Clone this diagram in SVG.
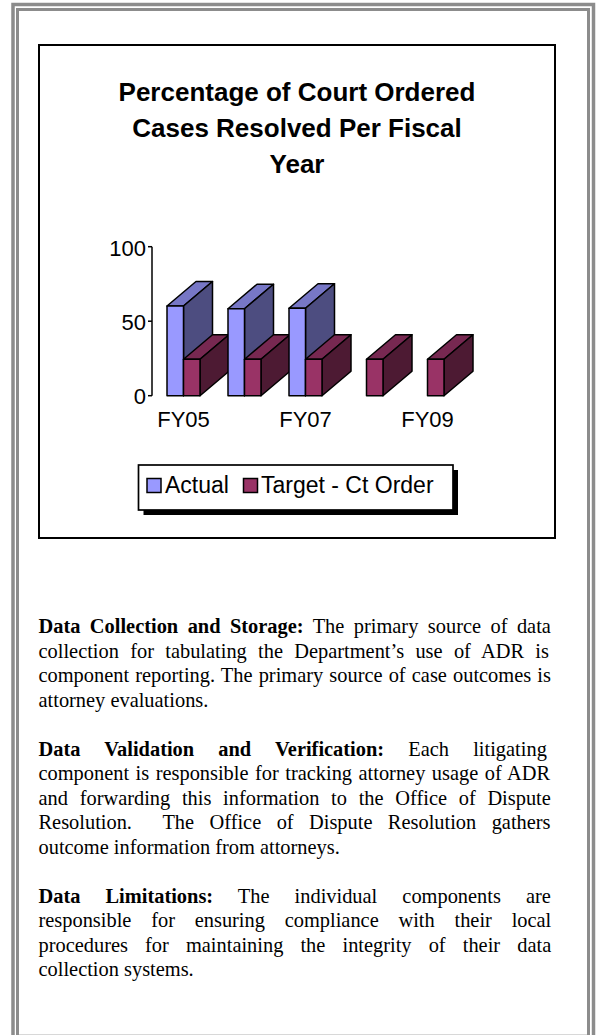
<svg xmlns="http://www.w3.org/2000/svg" width="597" height="1035" viewBox="0 0 597 1035">
<style>
.frame{fill:none;stroke:#8c8c8c}
.box{fill:none;stroke:#000;stroke-width:2}
.ttl{font-family:'Liberation Sans',Arial,sans-serif;font-weight:bold;font-size:26px;fill:#000;text-anchor:middle}
.ax{font-family:'Liberation Sans',Arial,sans-serif;font-size:22px;fill:#000}
.lg{font-family:'Liberation Sans',Arial,sans-serif;font-size:23px;fill:#000}
.bar *{stroke:#000;stroke-width:1.5;stroke-linejoin:round}
.af{fill:#9999ff}.at{fill:#7777c6}.as{fill:#4d4d80}
.tf{fill:#993366}.tt{fill:#772851}.ts{fill:#4d1a33}
.p{font-family:'Liberation Serif','Times New Roman',serif;font-size:20.4px;fill:#000}
.b{font-weight:bold}
</style>
<rect width="597" height="1035" fill="#fff"/>
<g id="page-border">
<rect class="frame" x="13" y="4.5" width="580.5" height="1040" stroke-width="3.5"/>
<rect class="frame" x="17.5" y="9.5" width="571" height="1040" stroke-width="3"/>
<line x1="19" y1="1034.5" x2="587" y2="1034.5" stroke="#d8d8d8" stroke-width="1"/>
</g>
<g id="chart">
<rect class="box" x="39" y="45" width="516" height="493"/>
<g id="title">
<text class="ttl" x="297" y="101">Percentage of Court Ordered</text>
<text class="ttl" x="297" y="137">Cases Resolved Per Fiscal</text>
<text class="ttl" x="297" y="173">Year</text>
</g>
<g id="axis">
<line x1="152" y1="246.7" x2="152" y2="395.7" stroke="#000" stroke-width="1.5"/>
<line x1="148" y1="246.7" x2="152" y2="246.7" stroke="#000" stroke-width="1.5"/>
<line x1="148" y1="321.2" x2="152" y2="321.2" stroke="#000" stroke-width="1.5"/>
<line x1="148" y1="395.7" x2="152" y2="395.7" stroke="#000" stroke-width="1.5"/>
<text class="ax" x="146" y="255.5" text-anchor="end">100</text>
<text class="ax" x="146" y="329.5" text-anchor="end">50</text>
<text class="ax" x="146" y="403.7" text-anchor="end">0</text>
<text class="ax" x="183.5" y="426.7" text-anchor="middle">FY05</text>
<text class="ax" x="305.5" y="426.7" text-anchor="middle">FY07</text>
<text class="ax" x="427.5" y="426.7" text-anchor="middle">FY09</text>
</g>
<g id="bars" class="bar">
<g id="actual-fy05">
<polygon class="at" points="167,306 183.5,306 212.5,281.5 196,281.5"/>
<polygon class="as" points="183.5,306 212.5,281.5 212.5,371.2 183.5,395.7"/>
<rect class="af" x="167" y="306" width="16.5" height="89.7"/>
</g>
<g id="target-fy05">
<polygon class="tt" points="183.5,359.3 200,359.3 229,334.8 212.5,334.8"/>
<polygon class="ts" points="200,359.3 229,334.8 229,371.2 200,395.7"/>
<rect class="tf" x="183.5" y="359.3" width="16.5" height="36.4"/>
</g>
<g id="actual-fy06">
<polygon class="at" points="228,308.7 244.5,308.7 273.5,284.2 257,284.2"/>
<polygon class="as" points="244.5,308.7 273.5,284.2 273.5,371.2 244.5,395.7"/>
<rect class="af" x="228" y="308.7" width="16.5" height="87"/>
</g>
<g id="target-fy06">
<polygon class="tt" points="244.5,359.3 261,359.3 290,334.8 273.5,334.8"/>
<polygon class="ts" points="261,359.3 290,334.8 290,371.2 261,395.7"/>
<rect class="tf" x="244.5" y="359.3" width="16.5" height="36.4"/>
</g>
<g id="actual-fy07">
<polygon class="at" points="289,308.3 305.5,308.3 334.5,283.8 318,283.8"/>
<polygon class="as" points="305.5,308.3 334.5,283.8 334.5,371.2 305.5,395.7"/>
<rect class="af" x="289" y="308.3" width="16.5" height="87.4"/>
</g>
<g id="target-fy07">
<polygon class="tt" points="305.5,359.3 322,359.3 351,334.8 334.5,334.8"/>
<polygon class="ts" points="322,359.3 351,334.8 351,371.2 322,395.7"/>
<rect class="tf" x="305.5" y="359.3" width="16.5" height="36.4"/>
</g>
<g id="target-fy08">
<polygon class="tt" points="366.5,359.3 383,359.3 412,334.8 395.5,334.8"/>
<polygon class="ts" points="383,359.3 412,334.8 412,371.2 383,395.7"/>
<rect class="tf" x="366.5" y="359.3" width="16.5" height="36.4"/>
</g>
<g id="target-fy09">
<polygon class="tt" points="427.5,359.3 444,359.3 473,334.8 456.5,334.8"/>
<polygon class="ts" points="444,359.3 473,334.8 473,371.2 444,395.7"/>
<rect class="tf" x="427.5" y="359.3" width="16.5" height="36.4"/>
</g>
</g>
<g id="legend">
<rect x="143.5" y="470" width="314.5" height="45" fill="#000"/>
<rect x="138.5" y="465" width="314.5" height="45" fill="#fff" stroke="#000" stroke-width="1.7"/>
<rect x="147" y="478.5" width="14" height="14" fill="#9999ff" stroke="#000" stroke-width="1.5"/>
<text class="lg" x="165" y="493.3">Actual</text>
<rect x="243.5" y="478.5" width="14" height="14" fill="#993366" stroke="#000" stroke-width="1.5"/>
<text class="lg" x="261" y="493.3">Target - Ct Order</text>
</g>
</g>
<g id="text-collection">
<text class="p" x="38.5" y="633" word-spacing="4.35"><tspan class="b">Data Collection and Storage:</tspan> The primary source of data</text>
<text class="p" x="38.5" y="657.5" word-spacing="6.19">collection for tabulating the Department’s use of ADR is</text>
<text class="p" x="38.5" y="682" word-spacing="1.03">component reporting. The primary source of case outcomes is</text>
<text class="p" x="38.5" y="706.5">attorney evaluations.</text>
</g>
<g id="text-validation">
<text class="p" x="38.5" y="755.5" word-spacing="19.08"><tspan class="b">Data Validation and Verification:</tspan> Each litigating</text>
<text class="p" x="38.5" y="780" word-spacing="1.38">component is responsible for tracking attorney usage of ADR</text>
<text class="p" x="38.5" y="804.5" word-spacing="6.61">and forwarding this information to the Office of Dispute</text>
<text class="p" x="38.5" y="829" word-spacing="10.31" xml:space="preserve">Resolution.  The Office of Dispute Resolution gathers</text>
<text class="p" x="38.5" y="853.5">outcome information from attorneys.</text>
</g>
<g id="text-limitations">
<text class="p" x="38.5" y="902.5" word-spacing="19.98"><tspan class="b">Data Limitations:</tspan> The individual components are</text>
<text class="p" x="38.5" y="927" word-spacing="14.68">responsible for ensuring compliance with their local</text>
<text class="p" x="38.5" y="951.5" word-spacing="12.01">procedures for maintaining the integrity of their data</text>
<text class="p" x="38.5" y="976">collection systems.</text>
</g>
</svg>
